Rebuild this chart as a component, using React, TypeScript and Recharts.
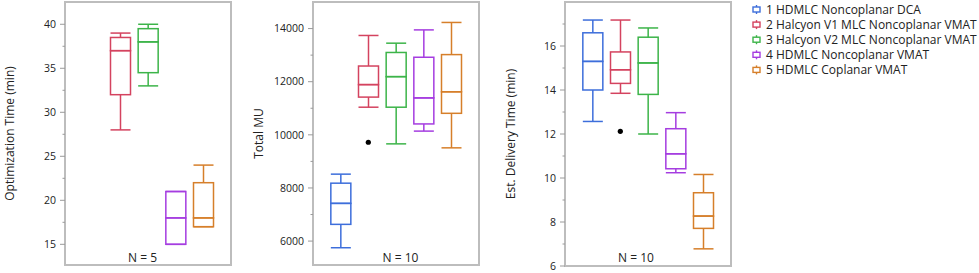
import { ComposedChart, Bar, Line, XAxis, YAxis } from 'recharts';

const methods = [
  '1 HDMLC Noncoplanar DCA',
  '2 Halcyon V1 MLC Noncoplanar VMAT',
  '3 Halcyon V2 MLC Noncoplanar VMAT',
  '4 HDMLC Noncoplanar VMAT',
  '5 HDMLC Coplanar VMAT',
];
const colors = ['#3d6edb', '#d4435f', '#3cb449', '#a53de0', '#d67f2a'];

// [min, q1, median, q3, max] per method, null = not measured
const optTimeStats = [
  null,
  [28, 32, 37, 38.5, 39],
  [33, 34.5, 38, 39.5, 40],
  [15, 15, 18, 21, 21],
  [17, 17, 18, 22, 24],
];
const optTimeOutliers = [null, null, null, null, null];

const totalMuStats = [
  [5750, 6630, 7420, 8180, 8520],
  [11040, 11420, 11890, 12590, 13740],
  [9660, 11040, 12190, 13100, 13450],
  [10140, 10410, 11390, 12920, 13950],
  [9510, 10810, 11620, 13020, 14230],
];
const totalMuOutliers = [null, 9720, null, null, null];

const deliveryStats = [
  [12.57, 14.0, 15.3, 16.6, 17.18],
  [13.85, 14.3, 14.92, 15.73, 17.18],
  [12.0, 13.8, 15.23, 16.4, 16.82],
  [10.24, 10.42, 11.1, 12.24, 12.97],
  [6.78, 7.71, 8.27, 9.33, 10.16],
];
const deliveryOutliers = [null, 12.12, null, null, null];

const optMajor = [15, 20, 25, 30, 35, 40];
const optMinor = [17.5, 22.5, 27.5, 32.5, 37.5];
const muMajor = [6000, 8000, 10000, 12000, 14000];
const muMinor = [7000, 9000, 11000, 13000];
const delMajor = [6, 8, 10, 12, 14, 16];
const delMinor = [7, 9, 11, 13, 15, 17];

const FONT = '"Open Sans", "Noto Sans", sans-serif';
const PLOT_W = 166;
const SW = 1.5;

function buildRows(stats: (number[] | null)[], outliers: (number | null)[]) {
  return stats.map((s, i) =>
    s
      ? { name: String(i + 1), ci: i, base: s[0], w1: s[1] - s[0], b1: s[2] - s[1], b2: s[3] - s[2], w2: s[4] - s[3], out: outliers[i] }
      : { name: String(i + 1), ci: i, base: null, w1: null, b1: null, b2: null, w2: null, out: outliers[i] }
  );
}

const nothing = () => <g />;

const lowWhisker = (p: any) => {
  const { x, y, width, height, payload } = p;
  if (!payload || payload.base == null || !isFinite(y)) return <g />;
  const c = colors[payload.ci];
  const cx = x + width / 2;
  return (
    <g>
      <line x1={cx} x2={cx} y1={y} y2={y + height} stroke={c} strokeWidth={SW} />
      <line x1={x} x2={x + width} y1={y + height} y2={y + height} stroke={c} strokeWidth={SW} />
    </g>
  );
};

const highWhisker = (p: any) => {
  const { x, y, width, height, payload } = p;
  if (!payload || payload.base == null || !isFinite(y)) return <g />;
  const c = colors[payload.ci];
  const cx = x + width / 2;
  return (
    <g>
      <line x1={cx} x2={cx} y1={y} y2={y + height} stroke={c} strokeWidth={SW} />
      <line x1={x} x2={x + width} y1={y} y2={y} stroke={c} strokeWidth={SW} />
    </g>
  );
};

const boxHalf = (p: any) => {
  const { x, y, width, height, payload } = p;
  if (!payload || payload.base == null || !isFinite(y)) return <g />;
  return <rect x={x} y={y} width={width} height={Math.max(height, 0)} fill="none" stroke={colors[payload.ci]} strokeWidth={SW} />;
};

function YTick(props: any) {
  const { x, y, payload, majors } = props;
  const isMajor = majors.includes(payload.value);
  return (
    <g>
      <line x1={x - (isMajor ? 5 : 2.5)} x2={x} y1={y} y2={y} stroke="#9a9a9a" strokeWidth={1} />
      {isMajor && (
        <text x={x - 9} y={y} dy="0.36em" textAnchor="end" fontSize={10.5} fontFamily={FONT} fill="#222">
          {payload.value}
        </text>
      )}
    </g>
  );
}

type PanelProps = {
  left: number;
  axisW: number;
  bottom: number;
  domain: [number, number];
  majors: number[];
  minors: number[];
  stats: (number[] | null)[];
  outliers: (number | null)[];
  title: string;
  titleX: number;
  nText: string;
  nX: number;
};

function Panel({ left, axisW, bottom, domain, majors, minors, stats, outliers, title, titleX, nText, nX }: PanelProps) {
  const data = buildRows(stats, outliers);
  const width = axisW + PLOT_W + 9;
  const top = 2;
  const ticks = [...majors, ...minors].sort((a, b) => a - b);
  const midY = (top + bottom) / 2;
  return (
    <div style={{ position: 'absolute', left, top: 0 }}>
      <div
        style={{
          position: 'absolute',
          left: axisW - 1,
          top: top - 1,
          width: PLOT_W + 2,
          height: bottom - top + 2,
          boxSizing: 'border-box',
          border: '2px solid #bdbdbd',
        }}
      />
      <ComposedChart width={width} height={273} data={data} margin={{ top, right: 9, bottom: 273 - bottom, left: 0 }}>
        <XAxis dataKey="name" type="category" hide padding={{ left: PLOT_W / 12, right: PLOT_W / 12 }} />
        <YAxis
          type="number"
          domain={domain}
          allowDataOverflow
          width={axisW}
          ticks={ticks}
          interval={0}
          tickSize={0}
          tickMargin={0}
          axisLine={false}
          tickLine={false}
          tick={(p: any) => <YTick {...p} majors={majors} />}
          label={{
            content: () => (
              <text
                x={titleX}
                y={midY}
                transform={`rotate(-90 ${titleX} ${midY})`}
                textAnchor="middle"
                dominantBaseline="central"
                fontSize={12}
                fontFamily={FONT}
                fill="#222"
              >
                {title}
              </text>
            ),
          }}
        />
        <Bar dataKey="base" stackId="box" barSize={20} shape={nothing} isAnimationActive={false} />
        <Bar dataKey="w1" stackId="box" barSize={20} shape={lowWhisker} isAnimationActive={false} />
        <Bar dataKey="b1" stackId="box" barSize={20} shape={boxHalf} isAnimationActive={false} />
        <Bar dataKey="b2" stackId="box" barSize={20} shape={boxHalf} isAnimationActive={false} />
        <Bar dataKey="w2" stackId="box" barSize={20} shape={highWhisker} isAnimationActive={false} />
        <Line
          dataKey="out"
          stroke="none"
          dot={{ r: 2.6, fill: '#000', stroke: '#000', strokeWidth: 0 }}
          activeDot={false}
          isAnimationActive={false}
        />
      </ComposedChart>
      <div
        style={{
          position: 'absolute',
          left: nX - 40,
          width: 80,
          top: 249,
          textAlign: 'center',
          fontSize: 12,
          fontFamily: FONT,
          color: '#222',
        }}
      >
        {nText}
      </div>
    </div>
  );
}

function Legend() {
  return (
    <svg width={230} height={80} style={{ position: 'absolute', left: 749, top: 0 }}>
      {methods.map((m, i) => {
        const cy = 9.5 + i * 15.1;
        const c = colors[i];
        return (
          <g key={m}>
            <rect x={4} y={cy - 2.5} width={7} height={5} fill="none" stroke={c} strokeWidth={1.4} />
            <line x1={7.5} x2={7.5} y1={cy - 4.5} y2={cy - 2.5} stroke={c} strokeWidth={1.4} />
            <line x1={7.5} x2={7.5} y1={cy + 2.5} y2={cy + 4.5} stroke={c} strokeWidth={1.4} />
            <text x={17} y={cy} dy="0.36em" fontSize={12} fontFamily={FONT} fill="#222">
              {m}
            </text>
          </g>
        );
      })}
    </svg>
  );
}

export default function App() {
  return (
    <div style={{ position: 'absolute', left: 0, top: 0, width: 979, height: 273, background: '#fff', overflow: 'hidden' }}>
      <Panel
        left={0}
        axisW={65}
        bottom={265}
        domain={[12.65, 42.53]}
        majors={optMajor}
        minors={optMinor}
        stats={optTimeStats}
        outliers={optTimeOutliers}
        title="Optimization Time (min)"
        titleX={9.5}
        nText="N = 5"
        nX={142.5}
      />
      <Panel
        left={240}
        axisW={73}
        bottom={265}
        domain={[5100, 15000]}
        majors={muMajor}
        minors={muMinor}
        stats={totalMuStats}
        outliers={totalMuOutliers}
        title="Total MU"
        titleX={18}
        nText="N = 10"
        nX={160.5}
      />
      <Panel
        left={480}
        axisW={85}
        bottom={266}
        domain={[6, 18]}
        majors={delMajor}
        minors={delMinor}
        stats={deliveryStats}
        outliers={deliveryOutliers}
        title="Est. Delivery Time (min)"
        titleX={30}
        nText="N = 10"
        nX={156}
      />
      <Legend />
    </div>
  );
}
